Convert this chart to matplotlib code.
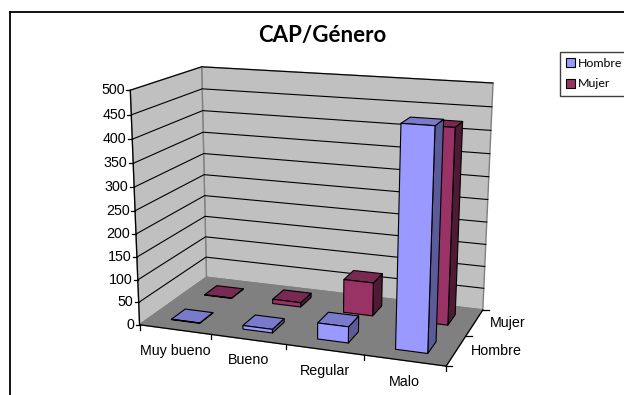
import numpy as np
from matplotlib import pyplot as plt
from matplotlib.patches import Patch

categories = ["Muy bueno", "Bueno", "Regular", "Malo"]
series_names = ["Hombre", "Mujer"]
hombre = [1, 8, 35, 460]
mujer = [1, 10, 75, 425]
y_ticks = [0, 50, 100, 150, 200, 250, 300, 350, 400, 450, 500]

# corners of the 3d box: (cat, series, value) in 0-1 -> pixel, used to fit the projection
box = [(0, 0, 0), (1, 0, 0), (0, 1, 0), (1, 1, 0), (0, 0, 1), (0, 1, 1), (1, 1, 1)]
pix = [(140, 325), (446, 366), (206, 277), (483, 310), (130, 90), (202, 67), (493, 83)]

rows = []
for (a, b, c), (u, v) in zip(box, pix):
    rows.append([a, b, c, 1, 0, 0, 0, 0, -u * a, -u * b, -u * c, -u])
    rows.append([0, 0, 0, 0, a, b, c, 1, -v * a, -v * b, -v * c, -v])
P = np.linalg.svd(np.array(rows, dtype=float))[2][-1].reshape(3, 4)


def proj(x, y, z):
    # x in categories, y in series, z in chart value
    p = P @ np.array([x / len(categories), y / len(series_names), z / y_ticks[-1], 1.0])
    return p[0] / p[2], p[1] / p[2]


fig = plt.figure(figsize=(6.24, 3.95), dpi=100)
ax = fig.add_axes([0, 0, 1, 1])
ax.set_xlim(0, 624)
ax.set_ylim(395, 0)
ax.axis("off")

# chart border runs off the canvas at the bottom and right
ax.plot([10, 10], [395, 12], color="black", lw=1.3)
ax.plot([10, 624], [12, 12], color="black", lw=1.3)

nc, ns, top = len(categories), len(series_names), y_ticks[-1]


def face(pts, color, edge="black", lw=0.8, z=2):
    ax.fill(*zip(*[proj(*p) for p in pts]), facecolor=color, edgecolor=edge, lw=lw, zorder=z,
            joinstyle="round")


# walls and floor
face([(0, ns, 0), (nc, ns, 0), (nc, ns, top), (0, ns, top)], "#c0c0c0", "#808080", 1.0, 1)
face([(0, 0, 0), (0, ns, 0), (0, ns, top), (0, 0, top)], "#c0c0c0", "#808080", 1.0, 1)
face([(0, 0, 0), (nc, 0, 0), (nc, ns, 0), (0, ns, 0)], "#808080", "#808080", 1.0, 1)

for t in y_ticks[1:]:
    line = [proj(0, 0, t), proj(0, ns, t), proj(nc, ns, t)]
    ax.plot(*zip(*line), color="black", lw=0.8, zorder=1.5)

# axes lines and ticks
ax.plot(*zip(proj(0, 0, 0), proj(0, 0, top)), color="black", lw=0.9, zorder=1.6)
ax.plot(*zip(proj(0, 0, 0), proj(nc, 0, 0)), color="black", lw=0.9, zorder=1.6)
ax.plot(*zip(proj(nc, 0, 0), proj(nc, ns, 0)), color="black", lw=0.9, zorder=1.6)
for t in y_ticks:
    x, y = proj(0, 0, t)
    ax.plot([x - 4, x], [y, y], color="black", lw=0.9)
    ax.text(x - 5.5, y, str(t), ha="right", va="center", fontsize=10.3, family="Liberation Sans")
for i in range(nc + 1):
    x, y = proj(i, 0, 0)
    ax.plot([x, x], [y, y + 5], color="black", lw=0.9)
for j in range(ns + 1):
    x, y = proj(nc, j, 0)
    ax.plot([x, x + 6], [y, y], color="black", lw=0.9)
for i, name in enumerate(categories):
    x, y = proj(i + 0.5, 0, 0)
    ax.text(x, y + 21, name, ha="center", va="center", fontsize=10.3, family="Liberation Sans")
for j, name in enumerate(series_names):
    x, y = proj(nc, j + 0.5, 0)
    ax.text(x + 15, y, name, ha="left", va="center", fontsize=10.3, family="Liberation Sans")

# bars, back row first
w = 0.2
d = 0.2
styles = [("#9999ff", "#7a7acc", "#5b5b99"), ("#993366", "#7a2952", "#4f1a35")]
z = 3
for j, vals in reversed(list(enumerate([hombre, mujer]))):
    front, lid, side = styles[j]
    for i, v in enumerate(vals):
        x0, x1 = i + 0.5 - w, i + 0.5 + w
        y0, y1 = j + 0.5 - d, j + 0.5 + d
        face([(x1, y0, 0), (x1, y1, 0), (x1, y1, v), (x1, y0, v)], side, z=z)
        face([(x0, y0, v), (x1, y0, v), (x1, y1, v), (x0, y1, v)], lid, z=z)
        face([(x0, y0, 0), (x1, y0, 0), (x1, y0, v), (x0, y0, v)], front, z=z)
        z += 1

ax.text(322, 35.5, "CAP/Género", ha="center", va="center", fontsize=16, fontweight="bold", family="Lato")

handles = [Patch(facecolor=styles[k][0], edgecolor="black", lw=0.8, label=series_names[k]) for k in range(ns)]
ax.legend(handles=handles, loc="upper left", bbox_to_anchor=(559.5 / 624, 1 - 52 / 395),
          prop={"family": "Lato", "size": 8.9}, frameon=True, fancybox=False, edgecolor="#404040",
          framealpha=1, borderaxespad=0, handlelength=0.72, handleheight=0.72, handletextpad=0.25,
          labelspacing=0.75, borderpad=0.5)

fig.savefig("out.png", dpi=100)
